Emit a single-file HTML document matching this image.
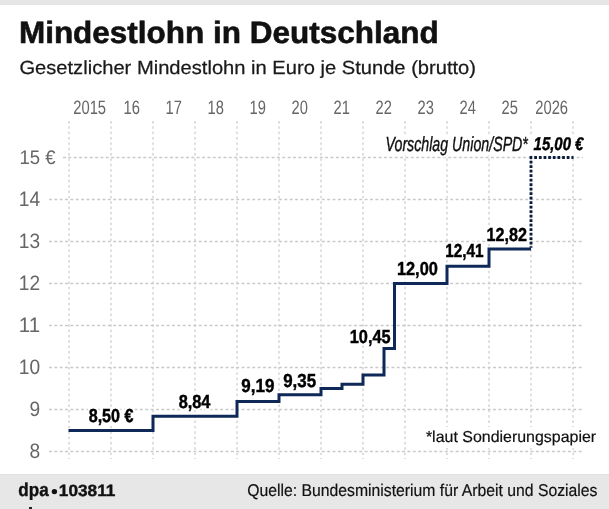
<!DOCTYPE html>
<html><head><meta charset="utf-8"><style>
html,body{margin:0;padding:0;background:#fff;width:609px;height:509px;overflow:hidden}
#top{position:absolute;left:0;top:0;width:609px;height:5px;background:#e5e5e5}
#foot{position:absolute;left:0;top:474px;width:609px;height:35px;background:#e7e7e7;border-top:1px solid #e2e2e2;box-sizing:border-box}
svg{position:absolute;left:0;top:0;will-change:transform;text-rendering:geometricPrecision;font-family:"Liberation Sans",sans-serif}
</style></head><body>
<div id="top"></div>
<div id="foot"></div>
<svg width="609" height="509" viewBox="0 0 609 509">
<line x1="69.0" y1="121" x2="69.0" y2="459" stroke="#d6d6d6" stroke-width="1.6" stroke-dasharray="2.4 2.95"/>
<line x1="111.0" y1="121" x2="111.0" y2="459" stroke="#d6d6d6" stroke-width="1.6" stroke-dasharray="2.4 2.95"/>
<line x1="153.0" y1="121" x2="153.0" y2="459" stroke="#d6d6d6" stroke-width="1.6" stroke-dasharray="2.4 2.95"/>
<line x1="195.0" y1="121" x2="195.0" y2="459" stroke="#d6d6d6" stroke-width="1.6" stroke-dasharray="2.4 2.95"/>
<line x1="237.0" y1="121" x2="237.0" y2="459" stroke="#d6d6d6" stroke-width="1.6" stroke-dasharray="2.4 2.95"/>
<line x1="279.0" y1="121" x2="279.0" y2="459" stroke="#d6d6d6" stroke-width="1.6" stroke-dasharray="2.4 2.95"/>
<line x1="321.0" y1="121" x2="321.0" y2="459" stroke="#d6d6d6" stroke-width="1.6" stroke-dasharray="2.4 2.95"/>
<line x1="363.0" y1="121" x2="363.0" y2="459" stroke="#d6d6d6" stroke-width="1.6" stroke-dasharray="2.4 2.95"/>
<line x1="405.0" y1="121" x2="405.0" y2="459" stroke="#d6d6d6" stroke-width="1.6" stroke-dasharray="2.4 2.95"/>
<line x1="447.0" y1="121" x2="447.0" y2="459" stroke="#d6d6d6" stroke-width="1.6" stroke-dasharray="2.4 2.95"/>
<line x1="489.0" y1="121" x2="489.0" y2="459" stroke="#d6d6d6" stroke-width="1.6" stroke-dasharray="2.4 2.95"/>
<line x1="531.0" y1="121" x2="531.0" y2="459" stroke="#d6d6d6" stroke-width="1.6" stroke-dasharray="2.4 2.95"/>
<line x1="573.0" y1="121" x2="573.0" y2="459" stroke="#d6d6d6" stroke-width="1.6" stroke-dasharray="2.4 2.95"/>
<line x1="49" y1="451.5" x2="583" y2="451.5" stroke="#c9c9c9" stroke-width="1.3" stroke-dasharray="2.9 2.45"/>
<line x1="49" y1="409.5" x2="583" y2="409.5" stroke="#c9c9c9" stroke-width="1.3" stroke-dasharray="2.9 2.45"/>
<line x1="49" y1="367.5" x2="583" y2="367.5" stroke="#c9c9c9" stroke-width="1.3" stroke-dasharray="2.9 2.45"/>
<line x1="49" y1="325.5" x2="583" y2="325.5" stroke="#c9c9c9" stroke-width="1.3" stroke-dasharray="2.9 2.45"/>
<line x1="49" y1="283.5" x2="583" y2="283.5" stroke="#c9c9c9" stroke-width="1.3" stroke-dasharray="2.9 2.45"/>
<line x1="49" y1="241.5" x2="583" y2="241.5" stroke="#c9c9c9" stroke-width="1.3" stroke-dasharray="2.9 2.45"/>
<line x1="49" y1="199.5" x2="583" y2="199.5" stroke="#c9c9c9" stroke-width="1.3" stroke-dasharray="2.9 2.45"/>
<line x1="63" y1="157.5" x2="583" y2="157.5" stroke="#c9c9c9" stroke-width="1.3" stroke-dasharray="2.9 2.45"/>
<rect x="384" y="135.5" width="203" height="19.5" fill="#fff"/>
<rect x="424" y="427" width="174" height="21" fill="#fff"/>
<text x="88.68" y="422.37" font-size="18.83" font-weight="bold" font-style="normal" textLength="44.81" lengthAdjust="spacingAndGlyphs" fill="#fff" stroke="#fff" stroke-width="5" stroke-linejoin="round">8,50 €</text>
<text x="178.68" y="407.99" font-size="18.83" font-weight="bold" font-style="normal" textLength="31.78" lengthAdjust="spacingAndGlyphs" fill="#fff" stroke="#fff" stroke-width="5" stroke-linejoin="round">8,84</text>
<text x="241.31" y="391.92" font-size="18.83" font-weight="bold" font-style="normal" textLength="33.10" lengthAdjust="spacingAndGlyphs" fill="#fff" stroke="#fff" stroke-width="5" stroke-linejoin="round">9,19</text>
<text x="283.19" y="386.84" font-size="18.83" font-weight="bold" font-style="normal" textLength="32.92" lengthAdjust="spacingAndGlyphs" fill="#fff" stroke="#fff" stroke-width="5" stroke-linejoin="round">9,35</text>
<text x="349.80" y="342.50" font-size="18.83" font-weight="bold" font-style="normal" textLength="40.81" lengthAdjust="spacingAndGlyphs" fill="#fff" stroke="#fff" stroke-width="5" stroke-linejoin="round">10,45</text>
<text x="396.95" y="275.00" font-size="18.83" font-weight="bold" font-style="normal" textLength="40.92" lengthAdjust="spacingAndGlyphs" fill="#fff" stroke="#fff" stroke-width="5" stroke-linejoin="round">12,00</text>
<text x="445.18" y="257.29" font-size="18.83" font-weight="bold" font-style="normal" textLength="38.43" lengthAdjust="spacingAndGlyphs" fill="#fff" stroke="#fff" stroke-width="5" stroke-linejoin="round">12,41</text>
<text x="486.62" y="240.89" font-size="18.83" font-weight="bold" font-style="normal" textLength="40.39" lengthAdjust="spacingAndGlyphs" fill="#fff" stroke="#fff" stroke-width="5" stroke-linejoin="round">12,82</text>
<text x="385.54" y="151.45" font-size="20.42" font-weight="normal" font-style="italic" textLength="142.36" lengthAdjust="spacingAndGlyphs" fill="#fff" stroke="#fff" stroke-width="5" stroke-linejoin="round">Vorschlag Union/SPD*</text>
<text x="533.57" y="149.80" font-size="18.44" font-weight="bold" font-style="italic" textLength="49.87" lengthAdjust="spacingAndGlyphs" fill="#fff" stroke="#fff" stroke-width="5" stroke-linejoin="round">15,00 €</text>
<text x="425.91" y="441.71" font-size="15.84" font-weight="normal" font-style="normal" textLength="170.25" lengthAdjust="spacingAndGlyphs" fill="#fff" stroke="#fff" stroke-width="5" stroke-linejoin="round">*laut Sondierungspapier</text>
<path d="M68.50 430.50 L153.00 430.50 L153.00 416.22 L237.00 416.22 L237.00 401.52 L279.00 401.52 L279.00 394.80 L321.00 394.80 L321.00 388.50 L342.00 388.50 L342.00 384.30 L363.00 384.30 L363.00 375.06 L384.00 375.06 L384.00 348.60 L394.50 348.60 L394.50 283.50 L447.00 283.50 L447.00 266.28 L489.00 266.28 L489.00 249.06 L531.00 249.06" fill="none" stroke="#0e2857" stroke-width="3" stroke-linejoin="miter"/>
<path d="M529.6 157.5 L573.5 157.5" fill="none" stroke="#0b1b3d" stroke-width="2.9" stroke-dasharray="2.7 1.95"/>
<path d="M531.0 160.7 L531.0 247.66" fill="none" stroke="#0b1b3d" stroke-width="2.9" stroke-dasharray="2.7 1.8"/>
<text x="18.93" y="43.30" font-size="30.78" font-weight="bold" font-style="normal" textLength="419.75" lengthAdjust="spacingAndGlyphs" fill="#111" stroke="#111" stroke-width="0.6">Mindestlohn in Deutschland</text>
<text x="19.42" y="74.22" font-size="19.02" font-weight="normal" font-style="normal" textLength="456.63" lengthAdjust="spacingAndGlyphs" fill="#1a1a1a" stroke="#1a1a1a" stroke-width="0.25">Gesetzlicher Mindestlohn in Euro je Stunde (brutto)</text>
<text x="73.23" y="114.32" font-size="19.42" font-weight="normal" font-style="normal" textLength="32.84" lengthAdjust="spacingAndGlyphs" fill="#666666">2015</text>
<text x="123.47" y="114.32" font-size="19.42" font-weight="normal" font-style="normal" textLength="16.36" lengthAdjust="spacingAndGlyphs" fill="#666666">16</text>
<text x="165.47" y="114.32" font-size="19.42" font-weight="normal" font-style="normal" textLength="16.36" lengthAdjust="spacingAndGlyphs" fill="#666666">17</text>
<text x="207.47" y="114.32" font-size="19.42" font-weight="normal" font-style="normal" textLength="16.36" lengthAdjust="spacingAndGlyphs" fill="#666666">18</text>
<text x="249.47" y="114.32" font-size="19.42" font-weight="normal" font-style="normal" textLength="16.36" lengthAdjust="spacingAndGlyphs" fill="#666666">19</text>
<text x="291.47" y="114.32" font-size="19.42" font-weight="normal" font-style="normal" textLength="16.36" lengthAdjust="spacingAndGlyphs" fill="#666666">20</text>
<text x="333.47" y="114.32" font-size="19.42" font-weight="normal" font-style="normal" textLength="16.36" lengthAdjust="spacingAndGlyphs" fill="#666666">21</text>
<text x="375.47" y="114.32" font-size="19.42" font-weight="normal" font-style="normal" textLength="16.36" lengthAdjust="spacingAndGlyphs" fill="#666666">22</text>
<text x="417.47" y="114.32" font-size="19.42" font-weight="normal" font-style="normal" textLength="16.36" lengthAdjust="spacingAndGlyphs" fill="#666666">23</text>
<text x="459.47" y="114.32" font-size="19.42" font-weight="normal" font-style="normal" textLength="16.36" lengthAdjust="spacingAndGlyphs" fill="#666666">24</text>
<text x="501.47" y="114.32" font-size="19.42" font-weight="normal" font-style="normal" textLength="16.36" lengthAdjust="spacingAndGlyphs" fill="#666666">25</text>
<text x="535.23" y="114.32" font-size="19.42" font-weight="normal" font-style="normal" textLength="32.84" lengthAdjust="spacingAndGlyphs" fill="#666666">2026</text>
<text x="29.60" y="458.29" font-size="20.91" font-weight="normal" font-style="normal" textLength="10.70" lengthAdjust="spacingAndGlyphs" fill="#666666">8</text>
<text x="29.60" y="416.29" font-size="20.91" font-weight="normal" font-style="normal" textLength="10.70" lengthAdjust="spacingAndGlyphs" fill="#666666">9</text>
<text x="18.83" y="374.29" font-size="20.91" font-weight="normal" font-style="normal" textLength="21.31" lengthAdjust="spacingAndGlyphs" fill="#666666">10</text>
<text x="18.83" y="332.29" font-size="20.91" font-weight="normal" font-style="normal" textLength="21.31" lengthAdjust="spacingAndGlyphs" fill="#666666">11</text>
<text x="18.83" y="290.29" font-size="20.91" font-weight="normal" font-style="normal" textLength="21.31" lengthAdjust="spacingAndGlyphs" fill="#666666">12</text>
<text x="18.83" y="248.29" font-size="20.91" font-weight="normal" font-style="normal" textLength="21.31" lengthAdjust="spacingAndGlyphs" fill="#666666">13</text>
<text x="18.83" y="206.29" font-size="20.91" font-weight="normal" font-style="normal" textLength="21.31" lengthAdjust="spacingAndGlyphs" fill="#666666">14</text>
<text x="19.55" y="164.13" font-size="19.69" font-weight="normal" font-style="normal" textLength="36.13" lengthAdjust="spacingAndGlyphs" fill="#666666">15 €</text>
<text x="88.68" y="422.37" font-size="18.83" font-weight="bold" font-style="normal" textLength="44.81" lengthAdjust="spacingAndGlyphs" fill="#000" stroke="#000" stroke-width="0.45">8,50 €</text>
<text x="178.68" y="407.99" font-size="18.83" font-weight="bold" font-style="normal" textLength="31.78" lengthAdjust="spacingAndGlyphs" fill="#000" stroke="#000" stroke-width="0.45">8,84</text>
<text x="241.31" y="391.92" font-size="18.83" font-weight="bold" font-style="normal" textLength="33.10" lengthAdjust="spacingAndGlyphs" fill="#000" stroke="#000" stroke-width="0.45">9,19</text>
<text x="283.19" y="386.84" font-size="18.83" font-weight="bold" font-style="normal" textLength="32.92" lengthAdjust="spacingAndGlyphs" fill="#000" stroke="#000" stroke-width="0.45">9,35</text>
<text x="349.80" y="342.50" font-size="18.83" font-weight="bold" font-style="normal" textLength="40.81" lengthAdjust="spacingAndGlyphs" fill="#000" stroke="#000" stroke-width="0.45">10,45</text>
<text x="396.95" y="275.00" font-size="18.83" font-weight="bold" font-style="normal" textLength="40.92" lengthAdjust="spacingAndGlyphs" fill="#000" stroke="#000" stroke-width="0.45">12,00</text>
<text x="445.18" y="257.29" font-size="18.83" font-weight="bold" font-style="normal" textLength="38.43" lengthAdjust="spacingAndGlyphs" fill="#000" stroke="#000" stroke-width="0.45">12,41</text>
<text x="486.62" y="240.89" font-size="18.83" font-weight="bold" font-style="normal" textLength="40.39" lengthAdjust="spacingAndGlyphs" fill="#000" stroke="#000" stroke-width="0.45">12,82</text>
<text x="385.54" y="151.45" font-size="20.42" font-weight="normal" font-style="italic" textLength="142.36" lengthAdjust="spacingAndGlyphs" fill="#111" stroke="#111" stroke-width="0.4">Vorschlag Union/SPD*</text>
<text x="533.57" y="149.80" font-size="18.44" font-weight="bold" font-style="italic" textLength="49.87" lengthAdjust="spacingAndGlyphs" fill="#000" stroke="#000" stroke-width="0.45">15,00 €</text>
<text x="425.91" y="441.71" font-size="15.84" font-weight="normal" font-style="normal" textLength="170.25" lengthAdjust="spacingAndGlyphs" fill="#111" stroke="#111" stroke-width="0.2">*laut Sondierungspapier</text>
<text x="18.37" y="495.72" font-size="18.74" font-weight="bold" font-style="normal" textLength="30.31" lengthAdjust="spacingAndGlyphs" fill="#111" stroke="#111" stroke-width="0.4">dpa</text>
<text x="58.87" y="495.89" font-size="16.30" font-weight="bold" font-style="normal" textLength="56.58" lengthAdjust="spacingAndGlyphs" fill="#111" stroke="#111" stroke-width="0.4">103811</text>
<circle cx="54.4" cy="491.6" r="2.7" fill="#111"/>
<text x="247.22" y="496.46" font-size="17.04" font-weight="normal" font-style="normal" textLength="350.28" lengthAdjust="spacingAndGlyphs" fill="#111" stroke="#111" stroke-width="0.2">Quelle: Bundesministerium für Arbeit und Soziales</text>
<rect x="29" y="507" width="3" height="2" fill="#222"/>
</svg>
</body></html>
